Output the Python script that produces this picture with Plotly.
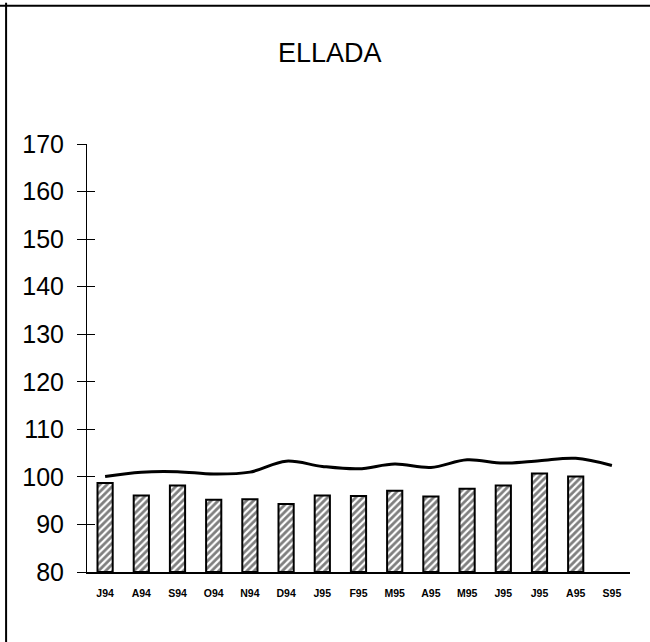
import plotly.graph_objects as go

categories = ["J94", "A94", "S94", "O94", "N94", "D94", "J95", "F95",
              "M95", "A95", "M95 ", "J95 ", "J95  ", "A95 ", "S95"]
tick_labels = ["J94", "A94", "S94", "O94", "N94", "D94", "J95", "F95",
               "M95", "A95", "M95", "J95", "J95", "A95", "S95"]
bar_values = [98.7, 96.1, 98.2, 95.2, 95.3, 94.3, 96.1, 96.0,
              97.1, 95.9, 97.5, 98.2, 100.7, 100.1, None]
line_values = [100.1, 101.0, 101.1, 100.6, 101.0, 103.3, 102.2, 101.7,
               102.7, 102.0, 103.6, 102.9, 103.4, 103.9, 102.4]
y_ticks = [80, 90, 100, 110, 120, 130, 140, 150, 160, 170]
title_text = "ELLADA"

FONT = "Liberation Sans, Arial, sans-serif"

fig = go.Figure()
fig.add_trace(go.Bar(
    x=categories, y=[v - 80 if v is not None else None for v in bar_values],
    base=80,
    width=0.42,
    marker=dict(color="white",
                line=dict(color="black", width=2),
                pattern=dict(shape="/", fgcolor="black", bgcolor="white",
                             size=5, solidity=0.55)),
    showlegend=False,
))
fig.add_trace(go.Scatter(
    x=categories, y=line_values, mode="lines",
    line=dict(color="black", width=3, shape="spline", smoothing=1.0),
    showlegend=False,
))
# invisible trace on overlay axis for inward tick marks
fig.add_trace(go.Scatter(x=categories, y=line_values, yaxis="y2",
                         mode="markers", marker=dict(opacity=0),
                         showlegend=False, hoverinfo="skip"))

fig.update_layout(
    width=650, height=642,
    margin=dict(l=87, r=20, t=144, b=70, pad=0),
    paper_bgcolor="white", plot_bgcolor="white",
    font=dict(family=FONT, color="black"),
    xaxis=dict(
        type="category", categoryorder="array", categoryarray=categories,
        tickmode="array", tickvals=categories, ticktext=tick_labels,
        tickfont=dict(size=10.5, family="Liberation Sans, Arial", weight="bold"),
        showline=True, linecolor="black", linewidth=1.5,
        ticks="", showgrid=False, zeroline=False,
        range=[-0.5, 14.5],
        ticklabelstandoff=11,
    ),
    yaxis=dict(
        range=[80, 170], tickvals=y_ticks,
        tickfont=dict(size=25, family=FONT),
        showline=True, linecolor="black", linewidth=1,
        ticks="outside", ticklen=9, tickwidth=1, tickcolor="black",
        showgrid=False, zeroline=False,
        ticklabelstandoff=8,
    ),
    yaxis2=dict(
        overlaying="y", matches="y", side="left", anchor="x",
        range=[80, 170], tickvals=y_ticks,
        ticks="inside", ticklen=8, tickwidth=1, tickcolor="black",
        showticklabels=False, showline=False, showgrid=False, zeroline=False,
    ),
    shapes=[
        dict(type="line", xref="paper", yref="paper",
             x0=-0.17, x1=1.05, y0=1.323, y1=1.323,
             line=dict(color="black", width=2)),
        dict(type="line", xref="paper", yref="paper",
             x0=-0.149, x1=-0.149, y0=-0.17, y1=1.33,
             line=dict(color="black", width=2)),
    ],
    annotations=[
        dict(text=title_text, xref="paper", yref="paper",
             x=0.4475, y=1.212, xanchor="center", yanchor="middle",
             showarrow=False, font=dict(size=27, family=FONT, color="black")),
    ],
)

fig.write_html("out.html",
               config={"displayModeBar": False},
               post_script="document.body.style.margin='0';"
                           "document.body.style.overflow='hidden';")
